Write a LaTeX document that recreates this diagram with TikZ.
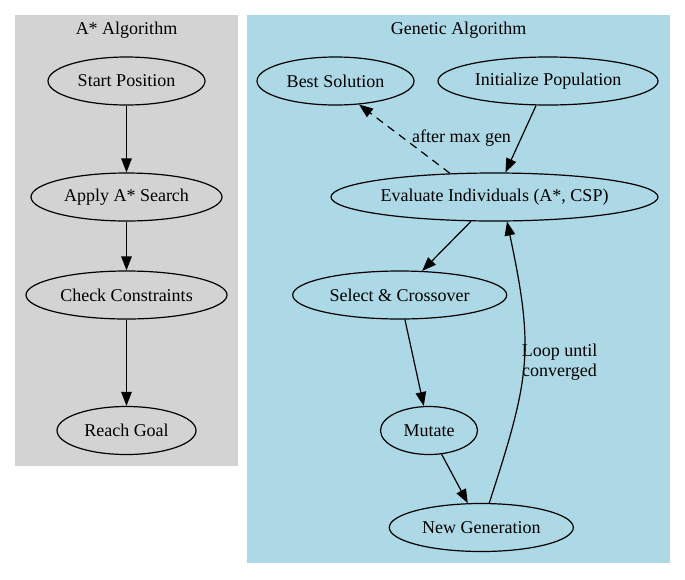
\documentclass[tikz,border=0pt]{standalone}
\usepackage{fontspec}
\setmainfont{Liberation Serif}
\usetikzlibrary{shapes.geometric,arrows.meta}
\definecolor{clgray}{HTML}{D3D3D3}
\definecolor{clblue}{HTML}{ADD8E6}
\begin{document}
\begin{tikzpicture}[x=1pt,y=-1pt,
  every node/.style={font=\fontsize{18}{20}\selectfont},
  gnode/.style={ellipse,draw,line width=1.2pt,inner sep=0pt,minimum height=48pt},
  edge/.style={line width=1.2pt,-{Triangle[length=14pt,width=10.5pt]}}]
\useasboundingbox (0,0) rectangle (685,579);
\fill[clgray] (15,15) rectangle (238,466);
\fill[clblue] (247,15) rectangle (670,563);
\node (lA) at (126.5,30.5) {A* Algorithm};
\node (lG) at (458.5,30.5) {Genetic Algorithm};
% A* nodes
\node[gnode,minimum width=157pt] (sp) at (126.5,81) {Start Position};
\node[gnode,minimum width=191pt] (aa) at (126.5,197) {Apply A* Search};
\node[gnode,minimum width=201pt] (cc) at (126.5,295) {Check Constraints};
\node[gnode,minimum width=139pt] (rg) at (126.5,430.5) {Reach Goal};
% GA nodes
\node[gnode,minimum width=157pt] (bs) at (335.5,81) {Best Solution};
\node[gnode,minimum width=220pt] (ip) at (548,81) {Initialize Population};
\node[gnode,minimum width=327pt] (ev) at (494.5,197) {Evaluate Individuals (A*, CSP)};
\node[gnode,minimum width=214pt] (sc) at (399.7,295) {Select \& Crossover};
\node[gnode,minimum width=97pt] (mu) at (429,430.5) {Mutate};
\node[gnode,minimum width=184pt] (ng) at (481.3,527.5) {New Generation};
% edges
\draw[edge] (sp) -- (aa);
\draw[edge] (aa) -- (cc);
\draw[edge] (cc) -- (rg);
\draw[edge] (ip.-116) -- (ev.66);
\draw[edge,dashed,dash pattern=on 8pt off 6pt] (ev.152) -- (bs.-45);
\node (lmax) at (461.5,138) {after max gen};
\draw[edge] (ev.-134) -- (sc.47);
\draw[edge] (sc.-78) -- (mu.102);
\draw[edge] (mu.-62) -- (ng.119);
\draw[edge] (ng.72) to[out=72,in=-78,looseness=1.2] (ev.-63);
\node[align=center] (lloop) at (559.5,362) {Loop until\\converged};
\end{tikzpicture}
\end{document}
